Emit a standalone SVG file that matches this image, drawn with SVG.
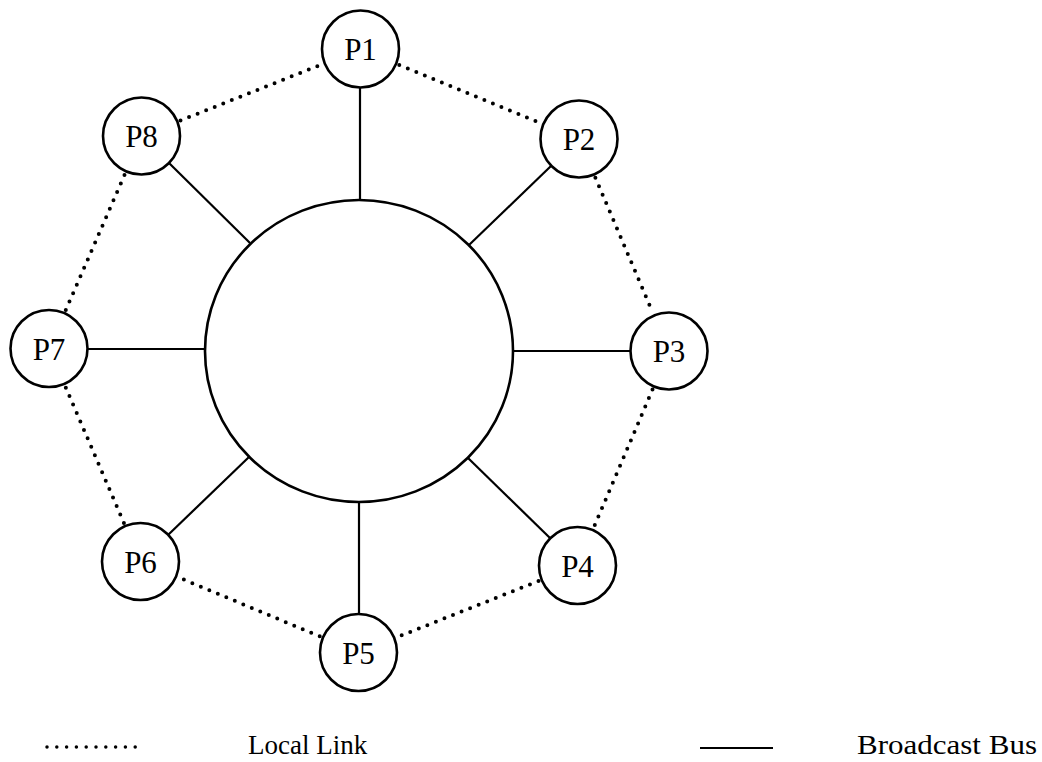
<svg xmlns="http://www.w3.org/2000/svg" width="1042" height="762" viewBox="0 0 1042 762">
<style>
.node{fill:#fff;stroke:#000;stroke-width:2.6}
.lbl{font-family:"Liberation Serif","DejaVu Serif",serif;font-size:31px;fill:#000;text-anchor:middle}
.bus{stroke:#000;stroke-width:2.2;fill:none}
.link{stroke:#000;stroke-width:4;stroke-linecap:round;stroke-dasharray:0 9.2;fill:none}
.leg{font-family:"Liberation Serif","DejaVu Serif",serif;font-size:27px;fill:#000}
</style>
<rect width="1042" height="762" fill="#fff"/>
<g id="connectors">
<line class="bus" x1="360" y1="87" x2="360" y2="200"/>
<line class="bus" x1="551" y1="166" x2="469" y2="245"/>
<line class="bus" x1="630" y1="351" x2="513" y2="351"/>
<line class="bus" x1="550" y1="538" x2="468" y2="458"/>
<line class="bus" x1="359" y1="614" x2="359" y2="502"/>
<line class="bus" x1="168" y1="535" x2="249" y2="457"/>
<line class="bus" x1="88" y1="349" x2="205" y2="349"/>
<line class="bus" x1="169" y1="163" x2="250" y2="243"/>
<line class="link" x1="399.3" y1="65" x2="540.2" y2="123"/>
<line class="link" x1="595.4" y1="177.7" x2="652.6" y2="312.3"/>
<line class="link" x1="652.5" y1="389.6" x2="594" y2="526.9"/>
<line class="link" x1="538.5" y1="581" x2="397.5" y2="637"/>
<line class="link" x1="319.7" y1="636.3" x2="179.3" y2="577.7"/>
<line class="link" x1="123.9" y1="522.9" x2="65.6" y2="387.1"/>
<line class="link" x1="65.8" y1="310" x2="124.7" y2="174.5"/>
<line class="link" x1="180.5" y1="120.5" x2="321.5" y2="64.5"/>
</g>
<g id="bus"><ellipse class="node" cx="359" cy="351" rx="154" ry="151"/></g>
<g id="P1"><circle class="node" cx="360.5" cy="49" r="38.5"/><text class="lbl" x="360.5" y="60">P1</text></g>
<g id="P2"><circle class="node" cx="579" cy="139" r="38.5"/><text class="lbl" x="579" y="150">P2</text></g>
<g id="P3"><circle class="node" cx="669" cy="351" r="38.5"/><text class="lbl" x="669" y="362">P3</text></g>
<g id="P4"><circle class="node" cx="577.5" cy="565.5" r="38.5"/><text class="lbl" x="577.5" y="576.5">P4</text></g>
<g id="P5"><circle class="node" cx="358.5" cy="652.5" r="38.5"/><text class="lbl" x="358.5" y="663.5">P5</text></g>
<g id="P6"><circle class="node" cx="140.5" cy="561.5" r="38.5"/><text class="lbl" x="140.5" y="572.5">P6</text></g>
<g id="P7"><circle class="node" cx="49" cy="348.5" r="38.5"/><text class="lbl" x="49" y="359.5">P7</text></g>
<g id="P8"><circle class="node" cx="141.5" cy="136" r="38.5"/><text class="lbl" x="141.5" y="147">P8</text></g>
<g id="legend">
<line class="link" x1="47" y1="747" x2="145" y2="747" style="stroke-width:3.5;stroke-dasharray:0 9.8"/>
<text class="leg" x="248" y="754">Local Link</text>
<line class="bus" x1="700" y1="748" x2="773" y2="748"/>
<text class="leg" x="857" y="754" textLength="180" lengthAdjust="spacingAndGlyphs">Broadcast Bus</text>
</g>
</svg>
